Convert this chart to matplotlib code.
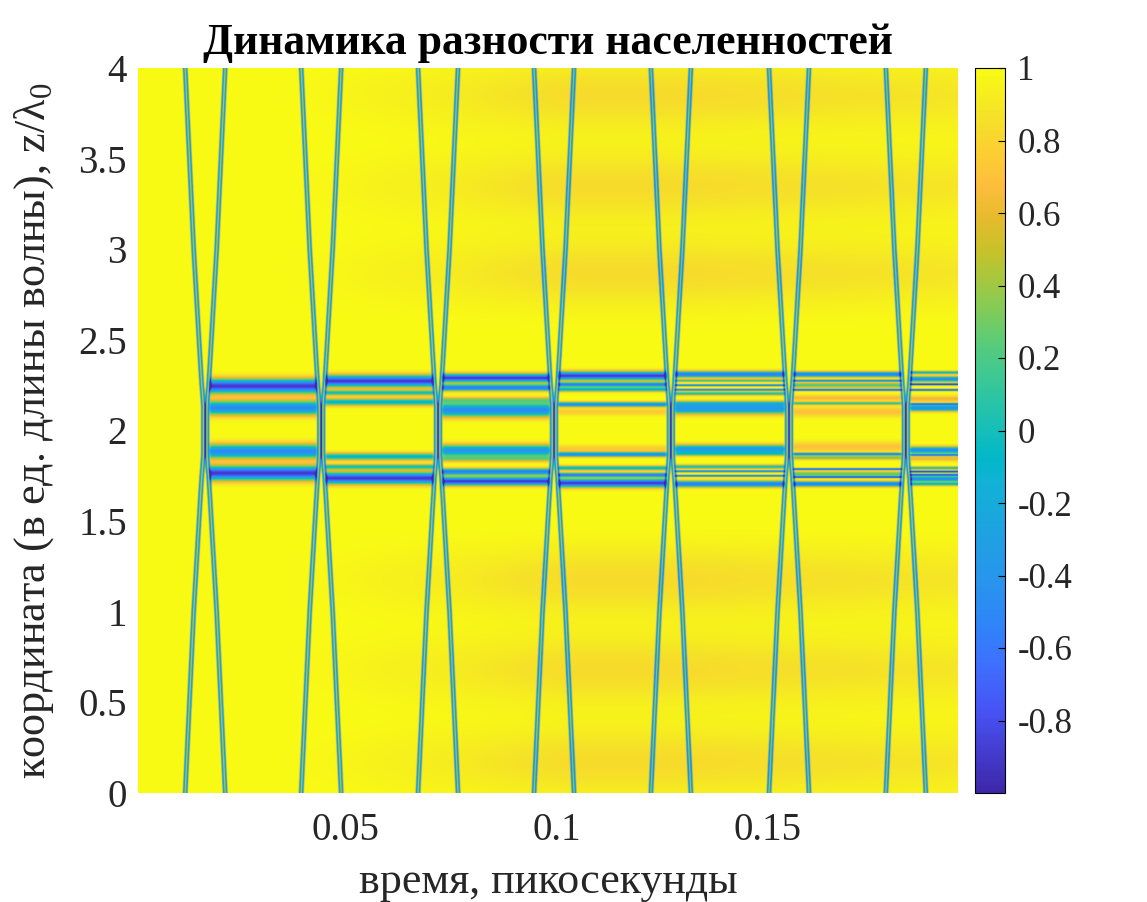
import numpy as np
import matplotlib
matplotlib.use('Agg')
import matplotlib.pyplot as plt
from matplotlib.colors import LinearSegmentedColormap

plt.rcParams['font.family'] = ['Liberation Serif', 'DejaVu Serif']
plt.rcParams['mathtext.fontset'] = 'custom'
plt.rcParams['mathtext.rm'] = 'Liberation Serif'

# parula, sampled
parula_rgb = [[.2422, .1504, .6603], [.2810, .3228, .9579], [.2440, .4358, .9988],
              [.1786, .5289, .9682], [.1540, .5902, .9218], [.0689, .6948, .8394],
              [.0036, .7203, .7917], [.0964, .7500, .7120], [.1938, .7758, .6251],
              [.3406, .8008, .4789], [.5616, .7942, .3045], [.7738, .7598, .1646],
              [.9035, .7330, .1774], [.9956, .7434, .2371], [.9892, .8136, .1885],
              [.9610, .8890, .1537], [.9769, .9839, .0805]]
parula_pos = [0, 7, 11, 15, 19, 27, 29, 32, 35, 39, 43, 47, 50, 53, 56, 59, 63]

T_MIN, T_MAX = 0.00083, 0.1951
PX_PER_T = 4220.0

# moments when the pulses meet
cross_t = [0.0167, 0.0442, 0.0719, 0.0994, 0.1271, 0.1551, 0.1828]

# pulse half separation (px) against distance from z=2
sep_dz = [0, 0.13, 0.2, 0.25, 0.39, 1.0, 2.0]
sep_px = [1.8, 1.8, 2.6, 3.4, 5.0, 11.5, 20.0]

# slow background stripes
tint_z = [0.17, 0.68, 1.175, 2.87, 3.35, 3.85]
tint_t = [0.03, 0.05, 0.075, 0.105, 0.13, 0.16, 0.195]
tint_d = [0.0, 0.03, 0.08, 0.17, 0.17, 0.14, 0.11]

# horizontal bands between pulse crossings: centre, width, depth
band_z_1 = [2.245, 2.125, 1.885, 1.765]
band_w_1 = [.027, .027, .027, .027]
band_d_1 = [1.9, 1.5, 1.5, 1.9]

band_z_2 = [2.273, 2.208, 2.157, 1.856, 1.80, 1.737]
band_w_2 = [.022, .010, .014, .014, .010, .022]
band_d_2 = [1.9, 1.0, 1.1, 1.1, 1.0, 1.9]

band_z_3 = [2.29, 2.236, 2.168, 2.113, 1.89, 1.843, 1.773, 1.72]
band_w_3 = [.016, .012, .012, .026, .022, .012, .012, .016]
band_d_3 = [1.9, 1.6, .6, 1.5, 1.4, .6, 1.6, 1.9]

band_z_4 = [2.302, 2.254, 2.227, 2.144, 2.103, 1.90, 1.868, 1.793, 1.755, 1.71]
band_w_4 = [.016, .008, .009, .009, .014, .014, .009, .009, .008, .016]
band_d_4 = [1.9, 1.6, 1.1, 1.5, .25, .25, 1.5, 1.1, 1.6, 1.9]

band_z_5 = [2.31, 2.275, 2.25, 2.225, 2.204, 2.15, 2.12, 1.898, 1.87, 1.80, 1.775, 1.75, 1.705]
band_w_5 = [.012, .005, .004, .004, .007, .010, .020, .016, .008, .008, .004, .004, .012]
band_d_5 = [1.6, .9, 1.6, 1.6, 1.0, .7, 1.4, 1.4, .7, 1.0, 1.6, 1.6, 1.6]

band_z_6 = [2.31, 2.275, 2.25, 2.224, 2.18, 2.15, 2.103, 1.91, 1.87, 1.85, 1.787, 1.76, 1.743, 1.705]
band_w_6 = [.010, .004, .010, .004, .012, .006, .020, .020, .005, .008, .004, .009, .004, .010]
band_d_6 = [1.6, 1.6, .8, 1.8, .35, .9, .3, .3, 1.6, .7, 1.8, .8, 1.8, 1.6]

band_z_7 = [2.32, 2.284, 2.255, 2.224, 2.175, 2.146, 2.124, 1.892, 1.865, 1.845, 1.793, 1.773, 1.755, 1.733, 1.705]
band_w_7 = [.006, .010, .004, .004, .012, .004, .012, .013, .004, .010, .006, .004, .004, .010, .007]
band_d_7 = [1.1, 1.5, 2.0, 1.8, .4, 1.5, 1.5, 1.5, 1.5, .4, 1.0, 2.0, 1.8, 1.5, 1.1]

bands = [(band_z_1, band_w_1, band_d_1), (band_z_2, band_w_2, band_d_2),
         (band_z_3, band_w_3, band_d_3), (band_z_4, band_w_4, band_d_4),
         (band_z_5, band_w_5, band_d_5), (band_z_6, band_w_6, band_d_6),
         (band_z_7, band_w_7, band_d_7)]

x_ticks = [0.05, 0.1, 0.15]
x_labels = ['0.05', '0.1', '0.15']
y_ticks = [0, 0.5, 1, 1.5, 2, 2.5, 3, 3.5, 4]
y_labels = ['0', '0.5', '1', '1.5', '2', '2.5', '3', '3.5', '4']
cb_ticks = [-0.8, -0.6, -0.4, -0.2, 0, 0.2, 0.4, 0.6, 0.8, 1]
cb_labels = ['-0.8', '-0.6', '-0.4', '-0.2', '0', '0.2', '0.4', '0.6', '0.8', '1']

t = np.linspace(T_MIN, T_MAX, 1640)
z = np.linspace(0, 4, 2900)
px = (t - T_MIN) * PX_PER_T

field = np.ones((z.size, t.size), dtype=np.float32)

# background
tint_time = np.interp(t, tint_t, tint_d)
tint_space = np.zeros_like(z)
for zc in tint_z:
    tint_space += np.exp(-(z - zc) ** 2 / (2 * 0.13 ** 2))
field -= np.outer(tint_space, tint_time).astype(np.float32)

# bands
edges = [(c - T_MIN) * PX_PER_T for c in cross_t] + [1e6]
for i, (bz, bw, bd) in enumerate(bands):
    mask = np.clip((px - edges[i] - 3) / 3, 0, 1) * np.clip((edges[i + 1] - 3 - px) / 3, 0, 1)
    prof = np.zeros_like(z)
    for zc, w, d in zip(bz, bw, bd):
        prof += d * np.exp(-(z - zc) ** 2 / (2 * w ** 2))
    field -= np.outer(prof, mask).astype(np.float32)

# pulses, each one is a double stripe
sep = np.interp(np.abs(z - 2), sep_dz, sep_px)
for c in cross_t:
    pc = (c - T_MIN) * PX_PER_T
    for sign in (-1, 1):
        d = px[None, :] - (pc + sign * sep[:, None])
        for s in (-1.4, 1.4):
            field -= (1.5 * np.exp(-(d - s) ** 2 / (2 * 0.7 ** 2))).astype(np.float32)

field = np.clip(field, -1, 1)

cmap = LinearSegmentedColormap.from_list(
    'parula', list(zip(np.array(parula_pos) / 63.0, parula_rgb)), N=256)

fig = plt.figure(figsize=(11.47, 9.02), dpi=100)
W, H = 1147.0, 902.0
ax = fig.add_axes([138 / W, 1 - 793 / H, 820 / W, 725 / H])
im = ax.imshow(field, origin='lower', aspect='auto', extent=[T_MIN, T_MAX, 0, 4],
               cmap=cmap, vmin=-1, vmax=1, interpolation='hanning',
               interpolation_stage='rgba')
for s in ax.spines.values():
    s.set_visible(False)
ax.set_xticks(x_ticks)
ax.set_xticklabels(x_labels)
ax.set_yticks(y_ticks)
ax.set_yticklabels(y_labels)
ax.tick_params(axis='y', length=0, labelsize=28, colors='#262626', pad=8)
ax.tick_params(axis='x', length=0, labelsize=28, colors='#262626', pad=14)
ax.set_xlabel('время, пикосекунды', fontsize=31.7, color='#262626', labelpad=9)
ax.set_ylabel('координата (в ед. длины волны), z/λ$_{\\mathrm{0}}$', fontsize=31.9,
              color='#262626', labelpad=16)
ax.set_title('Динамика разности населенностей', fontsize=31.5, fontweight='bold',
             color='black', pad=10)

cax = fig.add_axes([975 / W, 1 - 793 / H, 30 / W, 725 / H])
cb = fig.colorbar(im, cax=cax)
cb.set_ticks(cb_ticks)
cb.set_ticklabels(cb_labels)
cb.ax.tick_params(direction='in', length=5, width=0.8, labelsize=25,
                  labelcolor='#262626', pad=9)
cb.outline.set_linewidth(0.8)

fig.savefig('out.png', dpi=100)
